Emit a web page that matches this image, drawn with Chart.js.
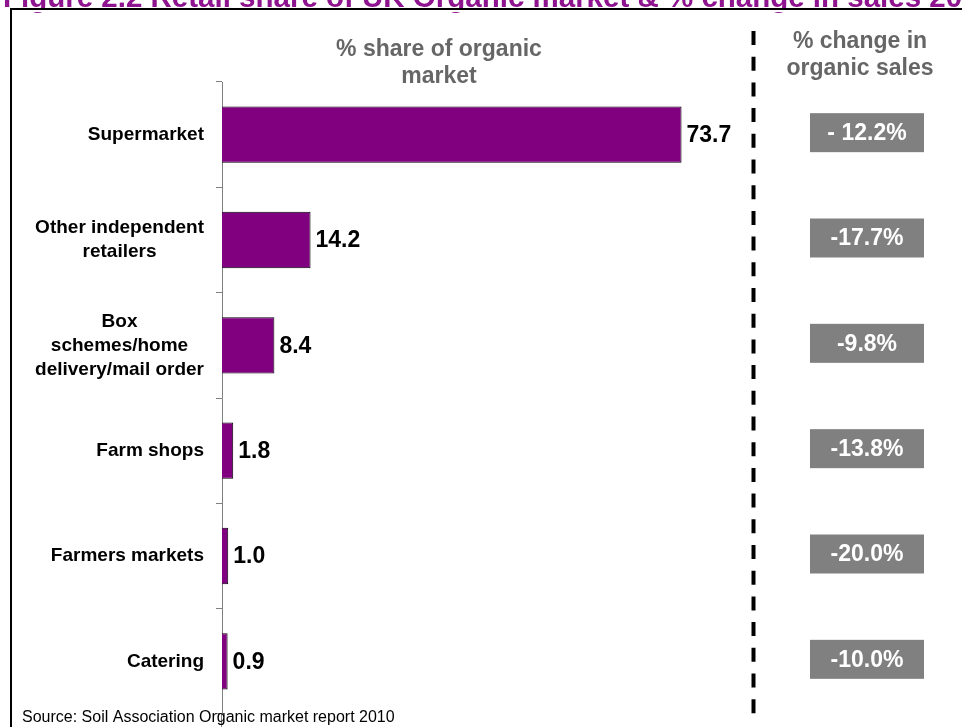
<!DOCTYPE html>
<html>
<head>
<meta charset="utf-8">
<script src="https://cdn.jsdelivr.net/npm/chart.js@4"></script>
<style>
  html,body{margin:0;padding:0;background:#fff;}
  #wrap{width:962px;height:727px;position:relative;overflow:hidden;}
</style>
</head>
<body>
<div id="wrap"><canvas id="c" width="962" height="727"></canvas></div>
<script>
// retail channels and their share of the organic market (%)
const channels = [
  ['Supermarket'],
  ['Other independent', 'retailers'],
  ['Box', 'schemes/home', 'delivery/mail order'],
  ['Farm shops'],
  ['Farmers markets'],
  ['Catering']
];
const shares = [73.7, 14.2, 8.4, 1.8, 1.0, 0.9];
// year-on-year change in organic sales per channel
const changes = ['- 12.2%', '-17.7%', '-9.8%', '-13.8%', '-20.0%', '-10.0%'];

const titleText = 'Figure 2.2 Retail share of UK Organic market & % change in sales 2010';
const shareHead = ['% share of organic', 'market'];
const changeHead = ['% change in', 'organic sales'];
const sourceText = 'Source: Soil Association Organic market report 2010';

const FONT = '"Liberation Sans", Arial, sans-serif';
const PURPLE = '#800080';

const extras = {
  id: 'extras',
  beforeDraw(chart) {
    const c = chart.ctx;
    c.save();
    c.fillStyle = '#fff';
    c.fillRect(0, 0, chart.width, chart.height);
    c.restore();
  },
  afterDraw(chart) {
    const c = chart.ctx, y = chart.scales.y, area = chart.chartArea;
    c.save();

    // title, partly hidden behind the frame
    c.font = 'bold 29.5px ' + FONT;
    c.fillStyle = '#8e138e';
    c.textAlign = 'left'; c.textBaseline = 'alphabetic';
    c.fillText(titleText, 3, 7);
    c.fillStyle = '#fff';
    c.fillRect(0, 8, chart.width, 4);

    // frame
    c.strokeStyle = '#000'; c.lineWidth = 2;
    c.beginPath(); c.moveTo(11, chart.height + 5); c.lineTo(11, 9); c.lineTo(chart.width + 5, 9); c.stroke();

    // axis line carried on to the bottom edge
    c.strokeStyle = '#808080'; c.lineWidth = 1;
    c.beginPath(); c.moveTo(area.left - 0.5, area.bottom); c.lineTo(area.left - 0.5, chart.height); c.stroke();

    // column headers
    c.fillStyle = '#666'; c.font = 'bold 23px ' + FONT;
    c.textAlign = 'center'; c.textBaseline = 'middle';
    shareHead.forEach((t, i) => c.fillText(t, 439, 50 + i * 27));
    changeHead.forEach((t, i) => c.fillText(t, 860, 42 + i * 27));

    // dashed divider
    c.strokeStyle = '#000'; c.lineWidth = 4; c.setLineDash([14, 11.7]);
    c.beginPath(); c.moveTo(753.5, 31); c.lineTo(753.5, 715); c.stroke();
    c.setLineDash([]);

    // category labels: block right aligned, lines centred
    c.font = 'bold 19px ' + FONT; c.fillStyle = '#000';
    channels.forEach((lines, i) => {
      const cy = y.getPixelForValue(i);
      const w = Math.max(...lines.map(l => c.measureText(l).width));
      const cx = 204 - w / 2;
      const lh = 24, y0 = cy - (lines.length - 1) * lh / 2;
      lines.forEach((l, k) => c.fillText(l, cx, y0 + k * lh));
    });

    // change boxes
    changes.forEach((t, i) => {
      const cy = y.getPixelForValue(i) - 2;
      c.fillStyle = '#808080';
      c.fillRect(810, cy - 19.5, 114, 39);
      c.fillStyle = '#fff'; c.font = 'bold 23px ' + FONT;
      c.fillText(t, 867, cy + 1);
    });

    // value labels at bar ends
    c.fillStyle = '#000'; c.font = 'bold 23px ' + FONT; c.textAlign = 'left';
    chart.getDatasetMeta(0).data.forEach((bar, i) => {
      c.fillText(shares[i].toFixed(1), bar.x + 5, bar.y + 1);
    });

    // source note
    c.font = '16px ' + FONT; c.textBaseline = 'alphabetic';
    c.fillText(sourceText, 22, 722);
    c.restore();
  }
};

new Chart(document.getElementById('c'), {
  type: 'bar',
  data: {
    labels: channels,
    datasets: [{
      data: shares,
      backgroundColor: PURPLE,
      borderColor: '#000',
      borderWidth: 1,
      barPercentage: 0.535,
      categoryPercentage: 1
    }]
  },
  options: {
    indexAxis: 'y',
    responsive: false,
    animation: false,
    devicePixelRatio: 1,
    layout: { padding: { left: 216, top: 82, bottom: 13, right: 210 } },
    plugins: { legend: { display: false }, tooltip: { enabled: false } },
    scales: {
      x: { type: 'linear', min: 0, max: 85, display: false },
      y: {
        type: 'category',
        ticks: { display: false },
        grid: { offset: true, drawOnChartArea: false, drawTicks: true, tickLength: 6, color: '#808080' },
        border: { color: '#808080' }
      }
    }
  },
  plugins: [extras]
});
</script>
</body>
</html>
